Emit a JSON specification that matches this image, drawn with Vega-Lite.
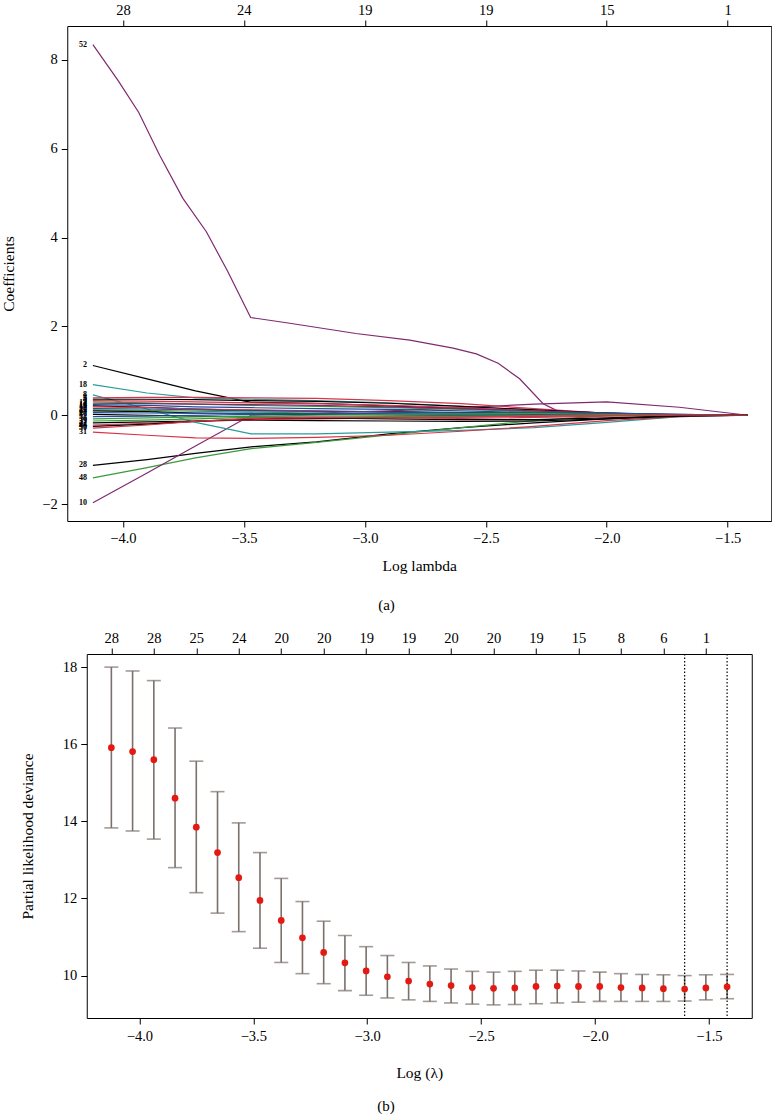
{
"$schema":"https://vega.github.io/schema/vega-lite/v6.json",
"padding":{"left":1,"top":1,"right":0,"bottom":0},
"background":"white",
"center":true,
"spacing":15,
"config":{
 "view":{"stroke":"black","strokeWidth":1},
 "axis":{"domain":false,"grid":false,"ticks":true,"tickColor":"black","tickSize":6,"tickWidth":1,"labelFont":"Liberation Serif","labelFontSize":14.5,"labelColor":"black","titleFont":"Liberation Serif","titleFontSize":15.5,"titleFontWeight":"normal","titleColor":"black","labelPadding":4,"labelFlush":false,"labelOverlap":false},
 "title":{"font":"Liberation Serif","fontSize":15,"fontWeight":"normal","color":"black"}
},
"datasets":{
"coef":[
{"v":"52","x":-4.124,"y":8.34},{"v":"52","x":-4.021,"y":7.54},{"v":"52","x":-3.935,"y":6.82},{"v":"52","x":-3.848,"y":5.85},{"v":"52","x":-3.752,"y":4.88},{"v":"52","x":-3.655,"y":4.13},{"v":"52","x":-3.566,"y":3.23},{"v":"52","x":-3.472,"y":2.2},{"v":"52","x":-3.31,"y":2.07},{"v":"52","x":-3.037,"y":1.84},{"v":"52","x":-2.814,"y":1.69},{"v":"52","x":-2.635,"y":1.51},{"v":"52","x":-2.539,"y":1.38},{"v":"52","x":-2.449,"y":1.17},{"v":"52","x":-2.36,"y":0.82},{"v":"52","x":-2.263,"y":0.26},{"v":"52","x":-2.208,"y":0.11},{"v":"52","x":-2.15,"y":0.03},{"v":"52","x":-2.1,"y":0},{"v":"52","x":-1.417,"y":0},
{"v":"2","x":-4.124,"y":1.12},{"v":"2","x":-3.9,"y":0.82},{"v":"2","x":-3.7,"y":0.55},{"v":"2","x":-3.47,"y":0.29},{"v":"2","x":-3.2,"y":0.27},{"v":"2","x":-2.9,"y":0.21},{"v":"2","x":-2.6,"y":0.15},{"v":"2","x":-2.3,"y":0.1},{"v":"2","x":-2,"y":0.05},{"v":"2","x":-1.7,"y":0.01},{"v":"2","x":-1.417,"y":0},
{"v":"18","x":-4.124,"y":0.69},{"v":"18","x":-3.9,"y":0.5},{"v":"18","x":-3.7,"y":0.39},{"v":"18","x":-3.47,"y":0.36},{"v":"18","x":-3.2,"y":0.33},{"v":"18","x":-2.9,"y":0.28},{"v":"18","x":-2.6,"y":0.2},{"v":"18","x":-2.3,"y":0.12},{"v":"18","x":-2,"y":0.05},{"v":"18","x":-1.7,"y":0},{"v":"18","x":-1.417,"y":0},
{"v":"28","x":-4.124,"y":-1.13},{"v":"28","x":-3.9,"y":-1.0},{"v":"28","x":-3.7,"y":-0.86},{"v":"28","x":-3.47,"y":-0.71},{"v":"28","x":-3.2,"y":-0.6},{"v":"28","x":-2.9,"y":-0.42},{"v":"28","x":-2.6,"y":-0.28},{"v":"28","x":-2.3,"y":-0.17},{"v":"28","x":-2,"y":-0.08},{"v":"28","x":-1.7,"y":0},{"v":"28","x":-1.417,"y":0},
{"v":"48","x":-4.124,"y":-1.41},{"v":"48","x":-3.9,"y":-1.18},{"v":"48","x":-3.7,"y":-0.96},{"v":"48","x":-3.47,"y":-0.75},{"v":"48","x":-3.2,"y":-0.61},{"v":"48","x":-2.9,"y":-0.44},{"v":"48","x":-2.6,"y":-0.28},{"v":"48","x":-2.3,"y":-0.12},{"v":"48","x":-2,"y":-0.01},{"v":"48","x":-1.7,"y":0},{"v":"48","x":-1.417,"y":0},
{"v":"10","x":-4.124,"y":-1.97},{"v":"10","x":-3.9,"y":-1.3},{"v":"10","x":-3.7,"y":-0.69},{"v":"10","x":-3.47,"y":0},{"v":"10","x":-3.2,"y":0.05},{"v":"10","x":-2.9,"y":0.1},{"v":"10","x":-2.6,"y":0.17},{"v":"10","x":-2.3,"y":0.25},{"v":"10","x":-2,"y":0.3},{"v":"10","x":-1.7,"y":0.18},{"v":"10","x":-1.417,"y":0},
{"v":"8","x":-4.124,"y":0.46},{"v":"8","x":-3.9,"y":0.14},{"v":"8","x":-3.7,"y":-0.16},{"v":"8","x":-3.47,"y":-0.42},{"v":"8","x":-3.2,"y":-0.42},{"v":"8","x":-2.9,"y":-0.38},{"v":"8","x":-2.6,"y":-0.34},{"v":"8","x":-2.3,"y":-0.28},{"v":"8","x":-2,"y":-0.16},{"v":"8","x":-1.7,"y":-0.03},{"v":"8","x":-1.417,"y":0},
{"v":"31","x":-4.124,"y":-0.38},{"v":"31","x":-3.9,"y":-0.45},{"v":"31","x":-3.7,"y":-0.51},{"v":"31","x":-3.47,"y":-0.52},{"v":"31","x":-3.2,"y":-0.5},{"v":"31","x":-2.9,"y":-0.45},{"v":"31","x":-2.6,"y":-0.36},{"v":"31","x":-2.3,"y":-0.25},{"v":"31","x":-2,"y":-0.12},{"v":"31","x":-1.7,"y":-0.03},{"v":"31","x":-1.417,"y":0},
{"v":"3","x":-4.124,"y":0.39},{"v":"3","x":-3.9,"y":0.4},{"v":"3","x":-3.7,"y":0.4},{"v":"3","x":-3.47,"y":0.39},{"v":"3","x":-3.2,"y":0.38},{"v":"3","x":-2.9,"y":0.33},{"v":"3","x":-2.6,"y":0.26},{"v":"3","x":-2.3,"y":0.15},{"v":"3","x":-2,"y":0.04},{"v":"3","x":-1.7,"y":0},{"v":"3","x":-1.417,"y":0},
{"v":"5","x":-4.124,"y":0.36},{"v":"5","x":-3.9,"y":0.36},{"v":"5","x":-3.7,"y":0.35},{"v":"5","x":-3.47,"y":0.33},{"v":"5","x":-3.2,"y":0.31},{"v":"5","x":-2.9,"y":0.27},{"v":"5","x":-2.6,"y":0.2},{"v":"5","x":-2.3,"y":0.12},{"v":"5","x":-2,"y":0.05},{"v":"5","x":-1.7,"y":0},{"v":"5","x":-1.417,"y":0},
{"v":"7","x":-4.124,"y":0.33},{"v":"7","x":-3.9,"y":0.32},{"v":"7","x":-3.7,"y":0.3},{"v":"7","x":-3.47,"y":0.28},{"v":"7","x":-3.2,"y":0.26},{"v":"7","x":-2.9,"y":0.22},{"v":"7","x":-2.6,"y":0.17},{"v":"7","x":-2.3,"y":0.1},{"v":"7","x":-2,"y":0.03},{"v":"7","x":-1.7,"y":0},{"v":"7","x":-1.417,"y":0},
{"v":"9","x":-4.124,"y":0.3},{"v":"9","x":-3.9,"y":0.28},{"v":"9","x":-3.7,"y":0.25},{"v":"9","x":-3.47,"y":0.22},{"v":"9","x":-3.2,"y":0.2},{"v":"9","x":-2.9,"y":0.17},{"v":"9","x":-2.6,"y":0.13},{"v":"9","x":-2.3,"y":0.08},{"v":"9","x":-2,"y":0.03},{"v":"9","x":-1.7,"y":0},{"v":"9","x":-1.417,"y":0},
{"v":"12","x":-4.124,"y":0.27},{"v":"12","x":-3.9,"y":0.26},{"v":"12","x":-3.7,"y":0.25},{"v":"12","x":-3.47,"y":0.24},{"v":"12","x":-3.2,"y":0.22},{"v":"12","x":-2.9,"y":0.19},{"v":"12","x":-2.6,"y":0.15},{"v":"12","x":-2.3,"y":0.1},{"v":"12","x":-2,"y":0.05},{"v":"12","x":-1.7,"y":0.02},{"v":"12","x":-1.417,"y":0},
{"v":"14","x":-4.124,"y":0.24},{"v":"14","x":-3.9,"y":0.22},{"v":"14","x":-3.7,"y":0.19},{"v":"14","x":-3.47,"y":0.17},{"v":"14","x":-3.2,"y":0.15},{"v":"14","x":-2.9,"y":0.13},{"v":"14","x":-2.6,"y":0.1},{"v":"14","x":-2.3,"y":0.06},{"v":"14","x":-2,"y":0.02},{"v":"14","x":-1.7,"y":0},{"v":"14","x":-1.417,"y":0},
{"v":"15","x":-4.124,"y":0.21},{"v":"15","x":-3.9,"y":0.18},{"v":"15","x":-3.7,"y":0.14},{"v":"15","x":-3.47,"y":0.11},{"v":"15","x":-3.2,"y":0.09},{"v":"15","x":-2.9,"y":0.08},{"v":"15","x":-2.6,"y":0.06},{"v":"15","x":-2.3,"y":0.04},{"v":"15","x":-2,"y":0.02},{"v":"15","x":-1.7,"y":0},{"v":"15","x":-1.417,"y":0},
{"v":"17","x":-4.124,"y":0.19},{"v":"17","x":-3.9,"y":0.17},{"v":"17","x":-3.7,"y":0.14},{"v":"17","x":-3.47,"y":0.12},{"v":"17","x":-3.2,"y":0.1},{"v":"17","x":-2.9,"y":0.07},{"v":"17","x":-2.6,"y":0.04},{"v":"17","x":-2.3,"y":0.02},{"v":"17","x":-2,"y":0},{"v":"17","x":-1.7,"y":0},{"v":"17","x":-1.417,"y":0},
{"v":"20","x":-4.124,"y":0.15},{"v":"20","x":-3.9,"y":0.14},{"v":"20","x":-3.7,"y":0.12},{"v":"20","x":-3.47,"y":0.1},{"v":"20","x":-3.2,"y":0.09},{"v":"20","x":-2.9,"y":0.07},{"v":"20","x":-2.6,"y":0.05},{"v":"20","x":-2.3,"y":0.03},{"v":"20","x":-2,"y":0.01},{"v":"20","x":-1.7,"y":0},{"v":"20","x":-1.417,"y":0},
{"v":"22","x":-4.124,"y":0.12},{"v":"22","x":-3.9,"y":0.11},{"v":"22","x":-3.7,"y":0.09},{"v":"22","x":-3.47,"y":0.07},{"v":"22","x":-3.2,"y":0.05},{"v":"22","x":-2.9,"y":0.03},{"v":"22","x":-2.6,"y":0.01},{"v":"22","x":-2.3,"y":0},{"v":"22","x":-2,"y":0},{"v":"22","x":-1.7,"y":0},{"v":"22","x":-1.417,"y":0},
{"v":"25","x":-4.124,"y":0.1},{"v":"25","x":-3.9,"y":0.08},{"v":"25","x":-3.7,"y":0.05},{"v":"25","x":-3.47,"y":0.03},{"v":"25","x":-3.2,"y":0.02},{"v":"25","x":-2.9,"y":0.01},{"v":"25","x":-2.6,"y":0},{"v":"25","x":-2.3,"y":0},{"v":"25","x":-2,"y":0},{"v":"25","x":-1.7,"y":0},{"v":"25","x":-1.417,"y":0},
{"v":"27","x":-4.124,"y":0.06},{"v":"27","x":-3.9,"y":0.05},{"v":"27","x":-3.7,"y":0.04},{"v":"27","x":-3.47,"y":0.04},{"v":"27","x":-3.2,"y":0.03},{"v":"27","x":-2.9,"y":0.02},{"v":"27","x":-2.6,"y":0.01},{"v":"27","x":-2.3,"y":0},{"v":"27","x":-2,"y":0},{"v":"27","x":-1.7,"y":0},{"v":"27","x":-1.417,"y":0},
{"v":"30","x":-4.124,"y":0.02},{"v":"30","x":-3.9,"y":0},{"v":"30","x":-3.7,"y":-0.02},{"v":"30","x":-3.47,"y":-0.04},{"v":"30","x":-3.2,"y":-0.05},{"v":"30","x":-2.9,"y":-0.05},{"v":"30","x":-2.6,"y":-0.04},{"v":"30","x":-2.3,"y":-0.02},{"v":"30","x":-2,"y":0},{"v":"30","x":-1.7,"y":0},{"v":"30","x":-1.417,"y":0},
{"v":"33","x":-4.124,"y":-0.03},{"v":"33","x":-3.9,"y":-0.02},{"v":"33","x":-3.7,"y":0},{"v":"33","x":-3.47,"y":0.02},{"v":"33","x":-3.2,"y":0.03},{"v":"33","x":-2.9,"y":0.04},{"v":"33","x":-2.6,"y":0.05},{"v":"33","x":-2.3,"y":0.06},{"v":"33","x":-2,"y":0.05},{"v":"33","x":-1.7,"y":0.02},{"v":"33","x":-1.417,"y":0},
{"v":"36","x":-4.124,"y":-0.08},{"v":"36","x":-3.9,"y":-0.06},{"v":"36","x":-3.7,"y":-0.04},{"v":"36","x":-3.47,"y":-0.02},{"v":"36","x":-3.2,"y":0},{"v":"36","x":-2.9,"y":0.02},{"v":"36","x":-2.6,"y":0.03},{"v":"36","x":-2.3,"y":0.04},{"v":"36","x":-2,"y":0.02},{"v":"36","x":-1.7,"y":0},{"v":"36","x":-1.417,"y":0},
{"v":"39","x":-4.124,"y":-0.13},{"v":"39","x":-3.9,"y":-0.11},{"v":"39","x":-3.7,"y":-0.08},{"v":"39","x":-3.47,"y":-0.05},{"v":"39","x":-3.2,"y":-0.04},{"v":"39","x":-2.9,"y":-0.03},{"v":"39","x":-2.6,"y":-0.02},{"v":"39","x":-2.3,"y":-0.01},{"v":"39","x":-2,"y":0},{"v":"39","x":-1.7,"y":0},{"v":"39","x":-1.417,"y":0},
{"v":"41","x":-4.124,"y":-0.17},{"v":"41","x":-3.9,"y":-0.15},{"v":"41","x":-3.7,"y":-0.13},{"v":"41","x":-3.47,"y":-0.11},{"v":"41","x":-3.2,"y":-0.12},{"v":"41","x":-2.9,"y":-0.13},{"v":"41","x":-2.6,"y":-0.14},{"v":"41","x":-2.3,"y":-0.13},{"v":"41","x":-2,"y":-0.08},{"v":"41","x":-1.7,"y":-0.02},{"v":"41","x":-1.417,"y":0},
{"v":"44","x":-4.124,"y":-0.22},{"v":"44","x":-3.9,"y":-0.18},{"v":"44","x":-3.7,"y":-0.14},{"v":"44","x":-3.47,"y":-0.1},{"v":"44","x":-3.2,"y":-0.08},{"v":"44","x":-2.9,"y":-0.06},{"v":"44","x":-2.6,"y":-0.04},{"v":"44","x":-2.3,"y":-0.02},{"v":"44","x":-2,"y":0},{"v":"44","x":-1.7,"y":0},{"v":"44","x":-1.417,"y":0},
{"v":"46","x":-4.124,"y":-0.25},{"v":"46","x":-3.9,"y":-0.2},{"v":"46","x":-3.7,"y":-0.14},{"v":"46","x":-3.47,"y":-0.08},{"v":"46","x":-3.2,"y":-0.06},{"v":"46","x":-2.9,"y":-0.08},{"v":"46","x":-2.6,"y":-0.1},{"v":"46","x":-2.3,"y":-0.1},{"v":"46","x":-2,"y":-0.06},{"v":"46","x":-1.7,"y":-0.01},{"v":"46","x":-1.417,"y":0},
{"v":"50","x":-4.124,"y":-0.29},{"v":"50","x":-3.9,"y":-0.22},{"v":"50","x":-3.7,"y":-0.14},{"v":"50","x":-3.47,"y":-0.07},{"v":"50","x":-3.2,"y":-0.05},{"v":"50","x":-2.9,"y":-0.06},{"v":"50","x":-2.6,"y":-0.07},{"v":"50","x":-2.3,"y":-0.05},{"v":"50","x":-2,"y":-0.02},{"v":"50","x":-1.7,"y":0},{"v":"50","x":-1.417,"y":0}
],
"cv":[
{"x":-4.123,"m":15.91,"lo":13.83,"hi":18.0},
{"x":-4.0298,"m":15.81,"lo":13.75,"hi":17.9},
{"x":-3.9366,"m":15.6,"lo":13.54,"hi":17.65},
{"x":-3.8434,"m":14.6,"lo":12.8,"hi":16.42},
{"x":-3.7502,"m":13.85,"lo":12.15,"hi":15.56},
{"x":-3.657,"m":13.19,"lo":11.62,"hi":14.77},
{"x":-3.5638,"m":12.54,"lo":11.14,"hi":13.96},
{"x":-3.4706,"m":11.95,"lo":10.71,"hi":13.19},
{"x":-3.3774,"m":11.43,"lo":10.34,"hi":12.52},
{"x":-3.2842,"m":10.98,"lo":10.05,"hi":11.92},
{"x":-3.191,"m":10.6,"lo":9.79,"hi":11.41},
{"x":-3.0978,"m":10.33,"lo":9.61,"hi":11.04},
{"x":-3.0046,"m":10.12,"lo":9.49,"hi":10.75},
{"x":-2.9114,"m":9.97,"lo":9.42,"hi":10.52},
{"x":-2.8182,"m":9.86,"lo":9.37,"hi":10.34},
{"x":-2.725,"m":9.78,"lo":9.33,"hi":10.25},
{"x":-2.6318,"m":9.74,"lo":9.29,"hi":10.17},
{"x":-2.5386,"m":9.69,"lo":9.26,"hi":10.11},
{"x":-2.4454,"m":9.67,"lo":9.24,"hi":10.09},
{"x":-2.3522,"m":9.68,"lo":9.25,"hi":10.11},
{"x":-2.259,"m":9.72,"lo":9.27,"hi":10.14},
{"x":-2.1658,"m":9.73,"lo":9.29,"hi":10.14},
{"x":-2.0726,"m":9.72,"lo":9.31,"hi":10.12},
{"x":-1.9794,"m":9.72,"lo":9.33,"hi":10.09},
{"x":-1.8862,"m":9.69,"lo":9.33,"hi":10.05},
{"x":-1.793,"m":9.68,"lo":9.33,"hi":10.03},
{"x":-1.6998,"m":9.66,"lo":9.33,"hi":10.02},
{"x":-1.6066,"m":9.65,"lo":9.34,"hi":10.0},
{"x":-1.5134,"m":9.68,"lo":9.37,"hi":10.02},
{"x":-1.4202,"m":9.71,"lo":9.4,"hi":10.03}
],
"vlines":[{"x":-1.6066},{"x":-1.4202}]
},
"vconcat":[
{
 "width":704,"height":495,
 "title":{"text":"(a)","orient":"bottom","offset":24,"frame":"bounds"},
 "data":{"name":"coef"},
 "layer":[
  {"mark":{"type":"line","strokeWidth":1.2},
   "encoding":{
    "x":{"field":"x","type":"quantitative","scale":{"domain":[-4.23,-1.32],"nice":false,"zero":false},
         "axis":{"values":[-4,-3.5,-3,-2.5,-2,-1.5],"format":".1f","title":"Log lambda","titlePadding":14}},
    "y":{"field":"y","type":"quantitative","scale":{"domain":[-2.38,8.76],"nice":false,"zero":false},
         "axis":{"values":[-2,0,2,4,6,8],"title":"Coefficients","titlePadding":25}},
    "color":{"field":"v","type":"nominal","legend":null,
      "scale":{"domain":["52","2","18","28","48","10","8","31","3","5","7","9","12","14","15","17","20","22","25","27","30","33","36","39","41","44","46","50"],
               "range":["#7e2a6f","#000000","#2a9d9a","#000000","#3a9a3a","#7e2a6f","#2a9d9a","#d8334a","#d8334a","#000000","#d8334a","#3a9a3a","#7e2a6f","#1f4e9e","#000000","#d8334a","#1f4e9e","#3a9a3a","#000000","#1f4e9e","#000000","#1f4e9e","#3a9a3a","#3a9a3a","#000000","#d8334a","#000000","#d8334a"]}}
   }},
  {"transform":[{"filter":"datum.x == -4.124"}],
   "mark":{"type":"text","align":"right","baseline":"middle","dx":-6,"fontSize":8,"font":"Liberation Serif","fontWeight":"bold","color":"black"},
   "encoding":{
    "x":{"field":"x","type":"quantitative","axis":{"orient":"top","values":[-4,-3.5,-3,-2.5,-2,-1.5],"title":null,"labelPadding":3,
         "labelExpr":"datum.value == -4 ? '28' : datum.value == -3.5 ? '24' : datum.value == -3 ? '19' : datum.value == -2.5 ? '19' : datum.value == -2 ? '15' : '1'"}},
    "y":{"field":"y","type":"quantitative","axis":{"values":[-2,0,2,4,6,8],"title":"Coefficients","titlePadding":25}},
    "text":{"field":"v"}
   }}
 ],
 "resolve":{"axis":{"x":"independent"}}
},
{
 "width":665,"height":364,
 "title":{"text":"(b)","orient":"bottom","offset":18,"frame":"bounds"},
 "data":{"name":"cv"},
 "layer":[
  {"mark":{"type":"rule","color":"#7b706c","strokeWidth":1.6},
   "encoding":{
    "x":{"field":"x","type":"quantitative","scale":{"domain":[-4.231,-1.312],"nice":false,"zero":false},
         "axis":{"values":[-4,-3.5,-3,-2.5,-2,-1.5],"format":".1f","title":"Log (λ)","titlePadding":22,"labelPadding":5.5}},
    "y":{"field":"lo","type":"quantitative","scale":{"domain":[8.9,18.34],"nice":false,"zero":false},
         "axis":{"values":[10,12,14,16,18],"title":"Partial likelihood deviance","titlePadding":27}},
    "y2":{"field":"hi"}
   }},
  {"mark":{"type":"tick","orient":"horizontal","color":"#7b706c","thickness":1.6,"size":14},
   "encoding":{"x":{"field":"x","type":"quantitative","axis":null},
    "y":{"field":"hi","type":"quantitative","axis":{"values":[10,12,14,16,18],"title":"Partial likelihood deviance","titlePadding":27}}}},
  {"mark":{"type":"tick","orient":"horizontal","color":"#7b706c","thickness":1.6,"size":14},
   "encoding":{"x":{"field":"x","type":"quantitative","axis":null},
    "y":{"field":"lo","type":"quantitative","axis":{"values":[10,12,14,16,18],"title":"Partial likelihood deviance","titlePadding":27}}}},
  {"data":{"name":"vlines"},
   "mark":{"type":"rule","color":"black","strokeWidth":1.2,"strokeDash":[1.5,2]},
   "encoding":{"x":{"field":"x","type":"quantitative","axis":null}}},
  {"mark":{"type":"circle","color":"#e41a12","opacity":1,"size":45},
   "encoding":{
    "x":{"field":"x","type":"quantitative","axis":{"orient":"top","title":null,"labelPadding":3,
         "values":[-4.123,-3.9366,-3.7502,-3.5638,-3.3774,-3.191,-3.0046,-2.8182,-2.6318,-2.4454,-2.259,-2.0726,-1.8862,-1.6998,-1.5134],
         "labelExpr":"['28','28','25','24','20','20','19','19','20','20','19','15','8','6','1'][round((datum.value + 4.123) / 0.1864)]"}},
    "y":{"field":"m","type":"quantitative","axis":{"values":[10,12,14,16,18],"title":"Partial likelihood deviance","titlePadding":27}}
   }}
 ],
 "resolve":{"axis":{"x":"independent"}}
}
]
}
